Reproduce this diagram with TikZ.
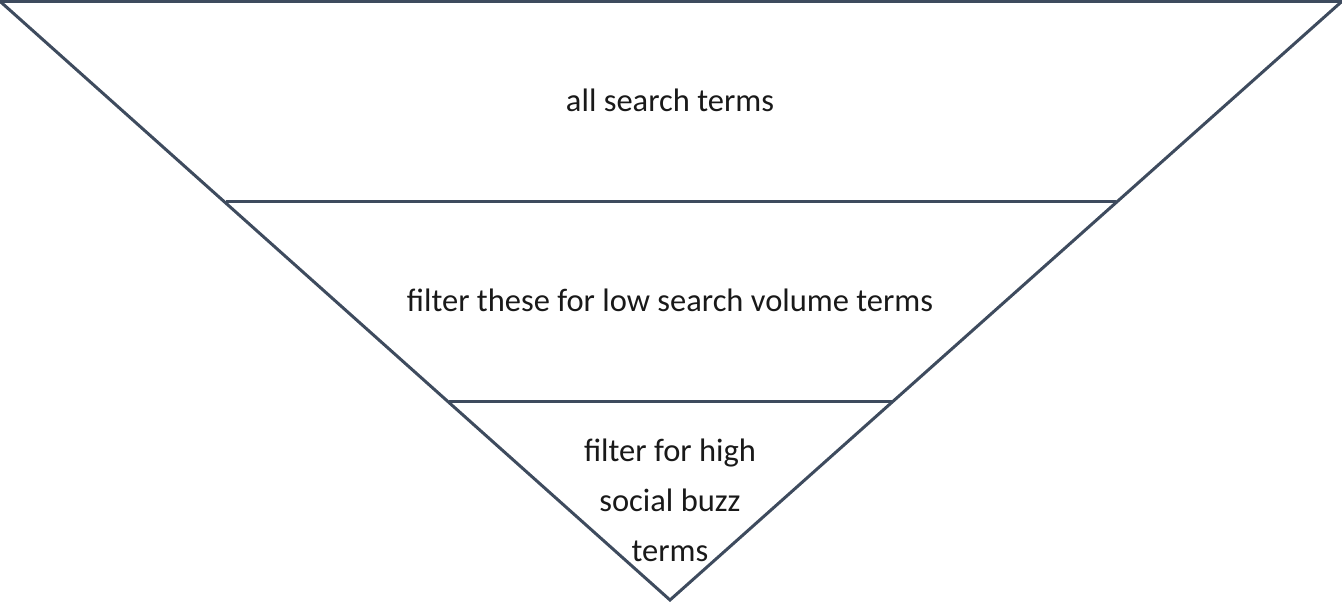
\documentclass[tikz,border=0pt]{standalone}
\usepackage{fontspec}
\setmainfont{Carlito}
\definecolor{funnel}{HTML}{3E4B5E}
\begin{document}
\begin{tikzpicture}[x=1pt,y=-1pt,
  edge/.style={draw=funnel,line width=3pt,line join=miter},
  label/.style={font=\fontsize{32.5}{50}\selectfont,text=black!90,align=center,inner sep=0pt}]
\useasboundingbox (0,0) rectangle (1342,602);
% funnel outline
\coordinate (tl) at (0,1.3);
\coordinate (tr) at (1342,1.3);
\coordinate (apex) at (670,600);
\coordinate (m1l) at (226,201);
\coordinate (m1r) at (1116,201);
\coordinate (m2l) at (449,401);
\coordinate (m2r) at (892,401);
\draw[edge] (tl) -- (tr) -- (apex) -- cycle;
\draw[edge] (m1l) -- (m1r);
\draw[edge] (m2l) -- (m2r);
% level labels
\node[label] (t1) at (670,100) {all search terms};
\node[label] (t2) at (670,300) {filter these for low search volume terms};
\node[label] (t3) at (670,500) {filter for high\\social buzz\\terms};
\end{tikzpicture}
\end{document}
